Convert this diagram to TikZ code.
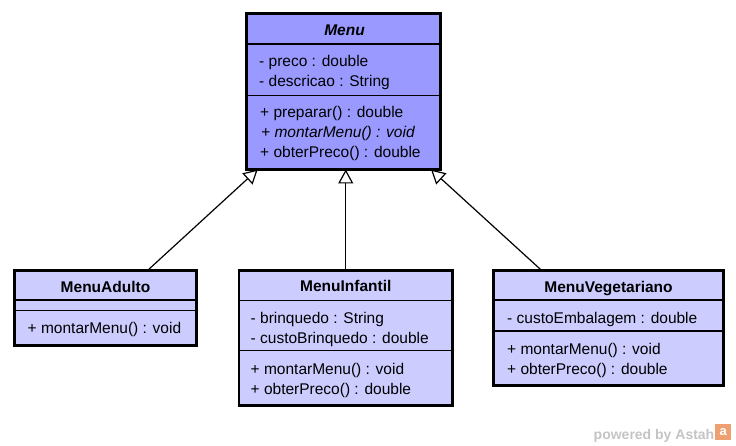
\documentclass[tikz,border=0pt]{standalone}
\usepackage{fontspec}
\setmainfont{Liberation Sans}
\usetikzlibrary{arrows.meta}
\definecolor{menufill}{HTML}{9999FF}
\definecolor{subfill}{HTML}{CCCCFF}
\definecolor{logogray}{HTML}{C4C4C4}
\definecolor{logoorange}{HTML}{F0A070}
\begin{document}
\begin{tikzpicture}[x=1pt,y=-1pt,
  classbox/.style={draw=black, line width=2.8pt, outer sep=0pt, inner sep=0pt, anchor=north west},
  sepline/.style={draw=black, line width=1.3pt},
  txt/.style={anchor=base west, inner sep=0pt, font=\fontsize{15.5}{18}\selectfont},
  ttl/.style={anchor=base, inner sep=0pt, font=\fontsize{15.5}{18}\selectfont\bfseries},
  inherit/.style={draw=black, line width=1.2pt, -{Triangle[open, length=14pt, width=15pt, fill=white]}}
]
\useasboundingbox (0,0) rectangle (736,446);

% boxes
\node[classbox, fill=menufill, minimum width=194pt, minimum height=156pt] (menu) at (246.5,13.5) {};
\node[classbox, fill=subfill, minimum width=182pt, minimum height=75pt] (adulto) at (14.5,270.5) {};
\node[classbox, fill=subfill, minimum width=213.5pt, minimum height=135.2pt] (infantil) at (239,270.5) {};
\node[classbox, fill=subfill, minimum width=230pt, minimum height=115.2pt] (veg) at (493.5,270.5) {};

% separators
\draw[sepline] ([yshift=-30.5pt]menu.north west) -- ([yshift=-30.5pt]menu.north east);
\draw[sepline] ([yshift=-82pt]menu.north west) -- ([yshift=-82pt]menu.north east);
\draw[sepline] ([yshift=-29.5pt]adulto.north west) -- ([yshift=-29.5pt]adulto.north east);
\draw[sepline] ([yshift=-40pt]adulto.north west) -- ([yshift=-40pt]adulto.north east);
\draw[sepline] ([yshift=-29.8pt]infantil.north west) -- ([yshift=-29.8pt]infantil.north east);
\draw[sepline] ([yshift=-80pt]infantil.north west) -- ([yshift=-80pt]infantil.north east);
\draw[sepline] ([yshift=-29.5pt]veg.north west) -- ([yshift=-29.5pt]veg.north east);
\draw[sepline] ([yshift=-60.5pt]veg.north west) -- ([yshift=-60.5pt]veg.north east);

% Menu texts
\node[ttl, font=\fontsize{15.5}{18}\selectfont\bfseries\itshape] (menuT) at (344.5,36) {Menu};
\node[txt] (m1) at (259,67) {- preco : double};
\node[txt] (m2) at (259,87) {- descricao : String};
\node[txt] (m3) at (260,118) {+ preparar() : double};
\node[txt, font=\fontsize{15.5}{18}\selectfont\itshape] (m4) at (261,137.5) {+ montarMenu() : void};
\node[txt] (m5) at (260,157.5) {+ obterPreco() : double};

% MenuAdulto
\node[ttl] (adultoT) at (105.5,292) {MenuAdulto};
\node[txt] (a1) at (27.5,333) {+ montarMenu() : void};

% MenuInfantil
\node[ttl] (infantilT) at (345.75,291.5) {MenuInfantil};
\node[txt] (i1) at (250.5,323.5) {- brinquedo : String};
\node[txt] (i2) at (250.5,343.5) {- custoBrinquedo : double};
\node[txt] (i3) at (250.5,374.5) {+ montarMenu() : void};
\node[txt] (i4) at (250.5,394.5) {+ obterPreco() : double};

% MenuVegetariano
\node[ttl] (vegT) at (608.5,292) {MenuVegetariano};
\node[txt] (v1) at (507,323.5) {- custoEmbalagem : double};
\node[txt] (v2) at (507,354.5) {+ montarMenu() : void};
\node[txt] (v3) at (507,374.5) {+ obterPreco() : double};

% inheritance connectors
\draw[inherit] ([xshift=133pt]adulto.north west) -- ([xshift=11.2pt]menu.south west);
\draw[inherit] (infantil.north) -- (infantil.north |- menu.south);
\draw[inherit] ([xshift=48.2pt]veg.north west) -- ([xshift=-9.5pt]menu.south east);

% logo
\node[anchor=base east, inner sep=0pt, text=logogray, font=\fontsize{14}{16}\selectfont\bfseries] (logoT) at (714.5,439) {powered by Astah};
\node[fill=logoorange, minimum width=16pt, minimum height=16pt, inner sep=0pt, anchor=south west, text=white, font=\fontsize{13}{13}\selectfont\bfseries] (logoB) at (715,440.5) {a};
\end{tikzpicture}
\end{document}
